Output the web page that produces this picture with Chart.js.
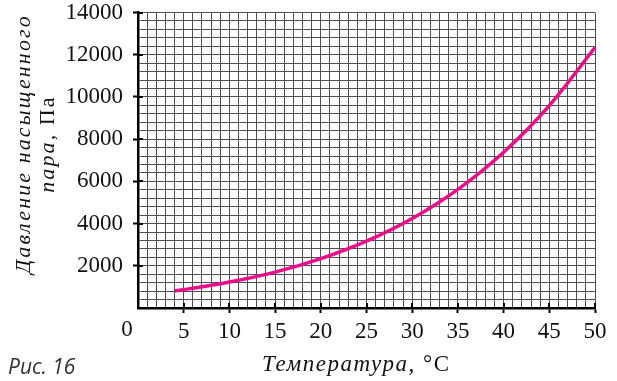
<!DOCTYPE html>
<html>
<head>
<meta charset="utf-8">
<script src="https://cdn.jsdelivr.net/npm/chart.js@4"></script>
<style>
  body { margin: 0; background: #fff; }
  #wrap { position: relative; width: 617px; height: 381px; overflow: hidden; }
  #chart { position: absolute; left: 0; top: -9px; }
  .serif { font-family: "Liberation Serif", "DejaVu Serif", serif; color: #111; }
  #xtitle { position: absolute; left: 262px; top: 351px; font-size: 23px; letter-spacing: 1.5px; white-space: nowrap; }
  #ytitle { position: absolute; left: 35px; top: 144px; width: 300px; font-size: 22px; line-height: 24px;
            text-align: center; letter-spacing: 2.1px; white-space: nowrap;
            transform: translate(-50%, -50%) rotate(-90deg); }
  #caption { position: absolute; left: 8px; top: 352px; font-family: "Open Sans", "Noto Sans", sans-serif;
             font-style: italic; font-size: 21px; color: #333; }
</style>
</head>
<body>
<div id="wrap">
  <canvas id="chart" width="617" height="390"></canvas>
  <div id="xtitle" class="serif"><i>Температура,</i> °С</div>
  <div id="ytitle" class="serif"><i>Давление насыщенного</i><br><i>пара,</i> Па</div>
  <div id="caption">Рис. 16</div>
</div>
<script>
// температура, °C
const temps = [4, 5, 10, 15, 20, 25, 30, 35, 40, 45, 50];
// давление насыщенного пара, Па
const pressures = [810, 870, 1230, 1700, 2340, 3170, 4240, 5620, 7380, 9590, 12340];

const xMin = 0, xMax = 50, xStep = 1, xLabelStep = 5;
const yMin = 0, yMax = 14000, yStep = 400, yLabelStep = 2000;

const serifFamily = 'Liberation Serif';
const tickSize = 23;
const tickFont = { family: serifFamily, size: tickSize, lineHeight: 1 };
const gridColor = '#505050';

Chart.defaults.font.family = serifFamily;
Chart.defaults.color = '#111';

const isMajor = (v, step) => v !== 0 && Math.abs(v % step) < 1e-6;

// major ticks cross the axis a little into the plot, and the shared "0" sits left of the corner
const axisExtras = {
    id: 'axisExtras',
    beforeDatasetsDraw(chart) {
        const { ctx, scales: { x, y } } = chart;
        ctx.save();
        ctx.strokeStyle = '#000';
        ctx.lineWidth = 2;
        ctx.beginPath();
        for (let v = xMin; v <= xMax; v += xLabelStep) {
            if (v === 0) continue;
            const px = Math.round(x.getPixelForValue(v));
            ctx.moveTo(px, y.bottom);
            ctx.lineTo(px, y.bottom - 5);
        }
        for (let v = yMin; v <= yMax; v += yLabelStep) {
            if (v === 0) continue;
            const py = Math.round(y.getPixelForValue(v));
            ctx.moveTo(x.left, py);
            ctx.lineTo(x.left + 5, py);
        }
        ctx.stroke();
        ctx.fillStyle = '#111';
        ctx.font = `${tickSize}px "${serifFamily}"`;
        ctx.textAlign = 'center';
        ctx.textBaseline = 'middle';
        ctx.fillText('0', x.getPixelForValue(0) - 11, y.bottom + 22);
        ctx.restore();
    }
};

new Chart(document.getElementById('chart'), {
    type: 'line',
    data: {
        datasets: [{
            data: temps.map((t, i) => ({ x: t, y: pressures[i] })),
            borderColor: '#ec0b8a',
            borderWidth: 3.5,
            pointRadius: 0,
            cubicInterpolationMode: 'monotone',
            fill: false
        }]
    },
    options: {
        responsive: false,
        animation: false,
        layout: { padding: { left: 0, top: 0, right: 22, bottom: 0 } },
        plugins: { legend: { display: false }, tooltip: { enabled: false } },
        scales: {
            x: {
                type: 'linear',
                min: xMin, max: xMax,
                afterFit: s => { s.height = 73; },
                border: { color: '#000', width: 2.5 },
                grid: {
                    color: gridColor,
                    lineWidth: 1,
                    tickLength: 5,
                    tickWidth: 2,
                    tickColor: c => isMajor(c.tick.value, xLabelStep) ? '#000' : 'rgba(0,0,0,0)'
                },
                ticks: {
                    stepSize: xStep,
                    autoSkip: false,
                    maxRotation: 0,
                    padding: 7,
                    font: tickFont,
                    callback: v => isMajor(v, xLabelStep) ? String(v) : ''
                }
            },
            y: {
                min: yMin, max: yMax,
                afterFit: s => { s.width = 138; },
                border: { color: '#000', width: 2.5 },
                grid: {
                    color: gridColor,
                    lineWidth: 1,
                    tickLength: 5,
                    tickWidth: 2,
                    tickColor: c => isMajor(c.tick.value, yLabelStep) ? '#000' : 'rgba(0,0,0,0)'
                },
                ticks: {
                    stepSize: yStep,
                    autoSkip: false,
                    padding: 10,
                    font: tickFont,
                    callback: v => isMajor(v, yLabelStep) ? String(v) : ''
                }
            }
        }
    },
    plugins: [axisExtras]
});
</script>
</body>
</html>
